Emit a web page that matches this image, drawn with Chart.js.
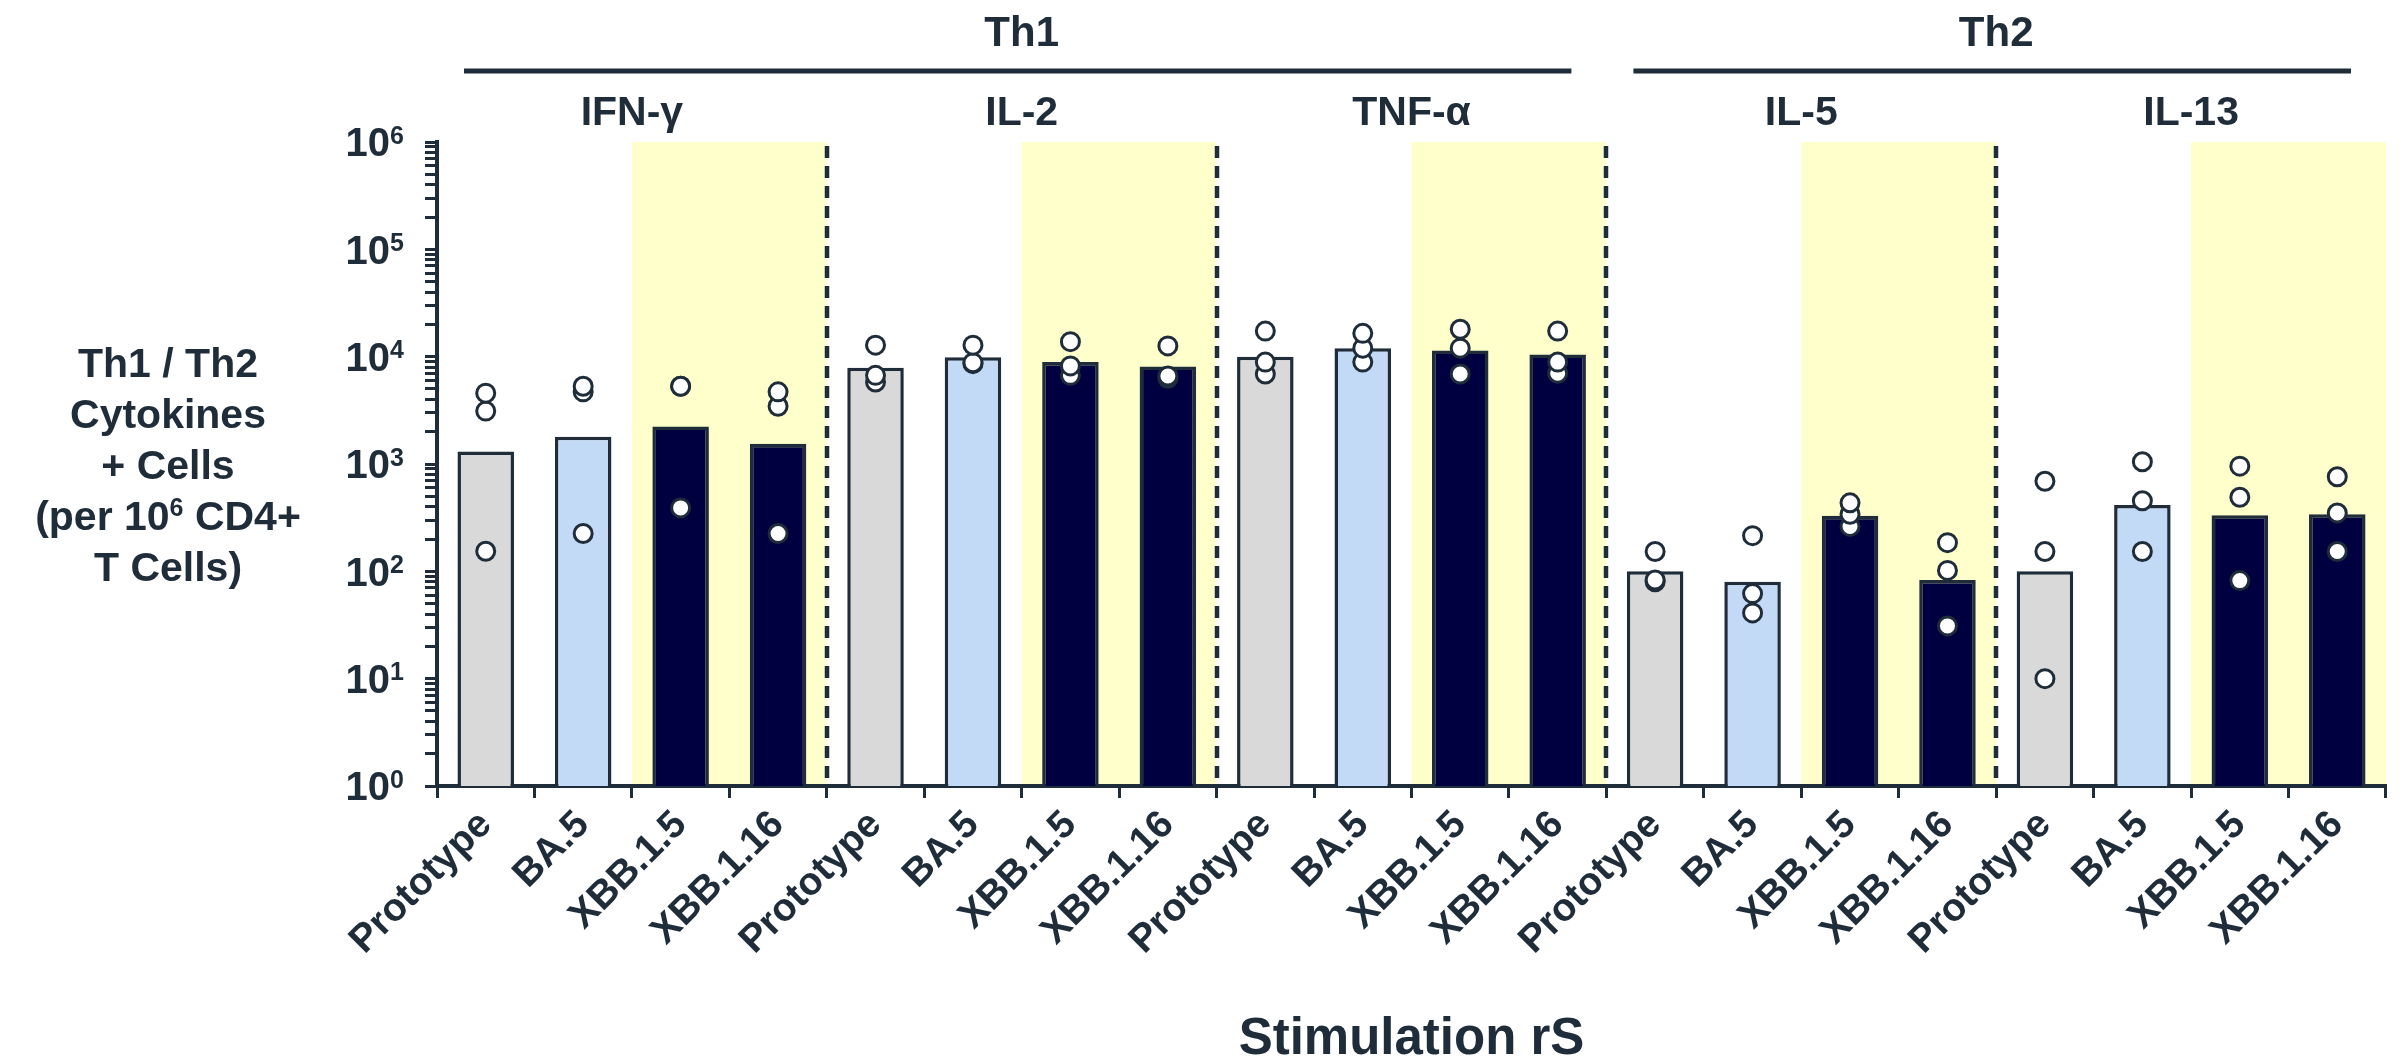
<!DOCTYPE html>
<html>
<head>
<meta charset="utf-8">
<script src="https://cdn.jsdelivr.net/npm/chart.js@4.4.0/dist/chart.umd.min.js"></script>
<style>
  html, body { margin: 0; padding: 0; background: #ffffff; }
  canvas { display: block; }
</style>
</head>
<body>
<canvas id="cytokineChart" width="2404" height="1063"></canvas>
<script>
const variants = ['Prototype', 'BA.5', 'XBB.1.5', 'XBB.1.16'];
const cytokines = ['IFN-γ', 'IL-2', 'TNF-α', 'IL-5', 'IL-13'];
const helperLabels = ['Th1', 'Th2'];
const helperSpans = [[0, 2], [3, 4]]; // first and last cytokine of each group

// bar heights (per cytokine, in variant order)
const ifngBars = [1310, 1790, 2230, 1540];
const il2Bars = [7900, 9900, 8900, 8100];
const tnfaBars = [10000, 12000, 11400, 10500];
const il5Bars = [100, 80, 330, 83];
const il13Bars = [100, 415, 333, 340];

// individual donors
const ifngPoints = [[4570, 3110, 154], [5300, 4700, 225], [5300, 5300, 390], [4700, 3450, 225]];
const il2Points = [[12800, 6700, 5800], [12800, 8800, 8600], [13800, 8200, 6700], [12600, 6600, 6300]];
const tnfaPoints = [[17300, 8900, 6900], [16500, 12000, 8900], [18000, 12000, 6900], [17300, 8900, 7000]];
const il5Points = [[153, 83, 80], [215, 62, 41], [435, 340, 262], [185, 102, 31]];
const il13Points = [[690, 153, 10], [1050, 455, 153], [955, 490, 82], [760, 350, 153]];

const yTickExponents = [0, 1, 2, 3, 4, 5, 6];
const yTitleLines = ['Th1 / Th2', 'Cytokines', '+ Cells', '(per 10^6 CD4+', 'T Cells)'];
const xTitle = 'Stimulation rS';

const variantColors = ['#d9d9d9', '#c2daf6', '#000040', '#000040'];
const ink = '#1f2d3a';
const family = "'Liberation Sans', Arial, sans-serif";

const categories = cytokines.flatMap(() => variants);
const barValues = [...ifngBars, ...il2Bars, ...tnfaBars, ...il5Bars, ...il13Bars];
const barColors = categories.map((c, i) => variantColors[i % 4]);
const allPoints = [...ifngPoints, ...il2Points, ...tnfaPoints, ...il5Points, ...il13Points];

// one point series per donor, indexed like the categories
const donorSeries = [0, 1, 2].map(k => allPoints.map(p => p[k]));

// y ticks: 1..9 of every decade
const yTickValues = [];
for (let e = 0; e < 6; e++) {
    for (let m = 1; m < 10; m++) yTickValues.push(m * Math.pow(10, e));
}
yTickValues.push(1e6);

// text with '^' marking a one-character superscript
function drawSupText(ctx, text, x, yMid, size, align) {
    const parts = [];
    for (let i = 0; i < text.length; i++) {
        if (text[i] === '^') { parts.push({ t: text[i + 1], sup: true }); i++; }
        else if (parts.length && !parts[parts.length - 1].sup) parts[parts.length - 1].t += text[i];
        else parts.push({ t: text[i], sup: false });
    }
    const supSize = Math.round(size * 0.62);
    const fontOf = p => 'bold ' + (p.sup ? supSize : size) + 'px ' + family;
    let total = 0;
    parts.forEach(p => { ctx.font = fontOf(p); p.w = ctx.measureText(p.t).width; total += p.w; });
    let cx = align === 'center' ? x - total / 2 : align === 'right' ? x - total : x;
    const base = yMid + 0.36 * size;
    const supBase = base - 0.716 * size + 0.716 * supSize - 0.05 * size;
    ctx.textAlign = 'left';
    ctx.textBaseline = 'alphabetic';
    parts.forEach(p => {
        ctx.font = fontOf(p);
        ctx.fillText(p.t, cx, p.sup ? supBase : base);
        cx += p.w;
    });
}

const panelPlugin = {
    id: 'panels',
    beforeDraw(chart) {
        const { ctx, chartArea, scales: { x, y } } = chart;
        const step = x.getPixelForValue(1) - x.getPixelForValue(0);
        const edge = i => x.getPixelForValue(i) - step / 2;
        const top = y.getPixelForValue(1e6);
        ctx.save();
        ctx.fillStyle = '#ffffcc';
        cytokines.forEach((c, g) => {
            const x0 = edge(g * 4 + 2), x1 = edge(g * 4 + 4);
            ctx.fillRect(x0, top, x1 - x0, chartArea.bottom - top);
        });
        ctx.restore();
    },
    beforeDatasetsDraw(chart) {
        const { ctx, chartArea, scales: { x, y } } = chart;
        const step = x.getPixelForValue(1) - x.getPixelForValue(0);
        const top = y.getPixelForValue(1e6);
        ctx.save();
        ctx.strokeStyle = ink;
        ctx.lineWidth = 4.5;
        ctx.setLineDash([12, 8]);
        for (let g = 1; g < cytokines.length; g++) {
            const px = Math.round(x.getPixelForValue(g * 4) - step / 2);
            ctx.beginPath();
            ctx.moveTo(px, top + 4);
            ctx.lineTo(px, chartArea.bottom);
            ctx.stroke();
        }
        ctx.restore();
    },
    afterDraw(chart) {
        const { ctx, chartArea, scales: { x, y } } = chart;
        const step = x.getPixelForValue(1) - x.getPixelForValue(0);
        const edge = i => x.getPixelForValue(i) - step / 2;
        ctx.save();
        ctx.fillStyle = ink;
        ctx.strokeStyle = ink;

        // Th1 / Th2 brackets
        helperLabels.forEach((lab, k) => {
            const x0 = edge(helperSpans[k][0] * 4), x1 = edge((helperSpans[k][1] + 1) * 4);
            ctx.font = 'bold 42px ' + family;
            ctx.textAlign = 'center';
            ctx.textBaseline = 'middle';
            ctx.fillText(lab, (x0 + x1) / 2, 34);
            ctx.lineWidth = 5;
            ctx.beginPath();
            ctx.moveTo(x0 + 27, 71);
            ctx.lineTo(x1 - 35, 71);
            ctx.stroke();
        });

        // cytokine names
        cytokines.forEach((c, g) => {
            ctx.font = 'bold 41px ' + family;
            ctx.textAlign = 'center';
            ctx.textBaseline = 'middle';
            ctx.fillText(c, (edge(g * 4) + edge(g * 4 + 4)) / 2, 114);
        });

        // y tick labels 10^n
        yTickExponents.forEach(e => {
            drawSupText(ctx, '10^' + e, chartArea.left - 33, y.getPixelForValue(Math.pow(10, e)), 40, 'right');
        });

        // y axis title
        const mid = (chartArea.top + chartArea.bottom) / 2;
        yTitleLines.forEach((line, i) => {
            drawSupText(ctx, line, 168, mid + (i - 2) * 51, 41, 'center');
        });
        ctx.restore();
    }
};

const pointDatasets = donorSeries.map(vals => ({
    type: 'line',
    data: vals,
    showLine: false,
    pointRadius: 9,
    pointHoverRadius: 9,
    pointBorderWidth: 3,
    pointBackgroundColor: '#ffffff',
    pointBorderColor: ink,
    order: 1
}));

new Chart(document.getElementById('cytokineChart'), {
    type: 'bar',
    data: {
        labels: categories,
        datasets: [...pointDatasets, {
            type: 'bar',
            data: barValues,
            backgroundColor: barColors,
            borderColor: ink,
            borderWidth: 3.5,
            barPercentage: 0.58,
            categoryPercentage: 1,
            order: 2
        }]
    },
    options: {
        responsive: false,
        animation: false,
        devicePixelRatio: 1,
        layout: { padding: { top: 142, right: 18, left: 0, bottom: 0 } },
        plugins: { legend: { display: false }, tooltip: { enabled: false } },
        scales: {
            x: {
                type: 'category',
                offset: true,
                grid: { offset: true, drawOnChartArea: false, tickLength: 12, tickWidth: 3, tickColor: ink },
                border: { display: true, color: ink, width: 4 },
                ticks: {
                    autoSkip: false,
                    maxRotation: 45,
                    minRotation: 45,
                    padding: 4,
                    color: ink,
                    font: { family: family, size: 39, weight: 'bold' }
                },
                title: {
                    display: true,
                    text: xTitle,
                    color: ink,
                    font: { family: family, size: 51, weight: 'bold' },
                    padding: { top: 0, bottom: -8 }
                },
                afterFit: s => { s.height = 277; }
            },
            y: {
                type: 'logarithmic',
                min: 1,
                max: 1e6,
                afterBuildTicks: s => {
                    s.ticks = yTickValues.map(v => ({ value: v, major: Number.isInteger(Math.log10(v)) }));
                },
                ticks: { display: false },
                grid: { drawOnChartArea: false, tickLength: 12, tickWidth: 3, tickColor: ink },
                border: { display: true, color: ink, width: 4 },
                afterFit: s => { s.width = 437; }
            }
        }
    },
    plugins: [panelPlugin]
});
</script>
</body>
</html>
